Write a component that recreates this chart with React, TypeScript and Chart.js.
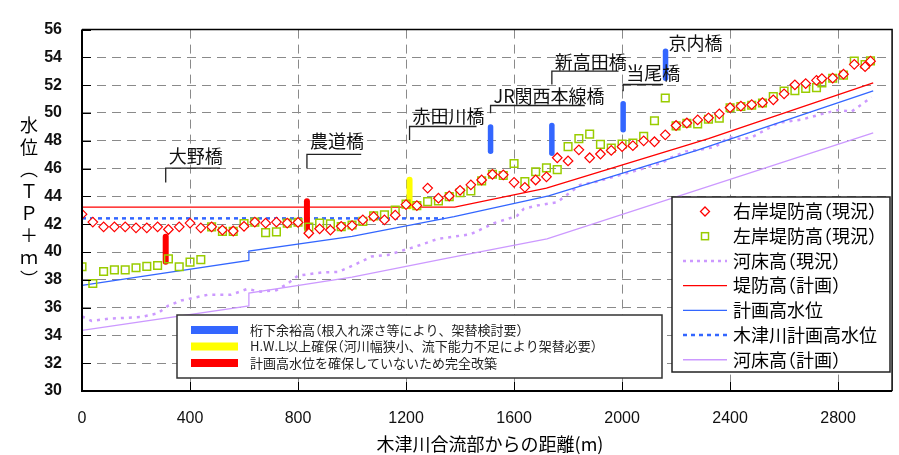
import { useEffect, useRef } from 'react';
import { Chart, registerables } from 'chart.js';

Chart.register(...registerables);

// ---------- data ----------
const distances = [
  0, 40, 80, 120, 160, 200, 240, 280, 320, 360, 400, 440, 480, 520, 560, 600, 640, 680, 720, 760,
  800, 840, 880, 920, 960, 1000, 1040, 1080, 1120, 1160, 1200, 1240, 1280, 1320, 1360, 1400, 1440, 1480, 1520, 1560,
  1600, 1640, 1680, 1720, 1760, 1800, 1840, 1880, 1920, 1960, 2000, 2040, 2080, 2120, 2160, 2200, 2240, 2280, 2320, 2360,
  2400, 2440, 2480, 2520, 2560, 2600, 2640, 2680, 2720, 2740, 2780, 2820, 2860, 2900, 2920,
];
const rightBankCurrent = [
  42.72, 42.15, 41.81, 41.81, 41.81, 41.74, 41.74, 41.81, 41.62, 41.81, 42.08, 41.74, 41.81, 41.58, 41.51, 41.85, 42.15, 42.08, 42.15, 42.08,
  42.13, 41.35, 41.67, 41.58, 41.85, 41.9, 42.31, 42.54, 42.31, 42.65, 43.41, 43.34, 44.6, 43.87, 44.03, 44.44, 44.83, 45.18, 45.59, 45.55,
  45.01, 44.65, 45.18, 45.41, 46.78, 46.55, 47.35, 46.78, 47.05, 47.31, 47.58, 47.65, 48.0, 47.93, 48.43, 49.1, 49.28, 49.5, 49.65, 49.94,
  50.38, 50.5, 50.6, 50.74, 50.95, 51.38, 52.03, 52.12, 52.35, 52.48, 52.51, 52.79, 53.5, 53.33, 53.73,
];
const leftBankCurrent = [
  38.94, 37.73, 38.6, 38.71, 38.71, 38.87, 38.97, 39.03, 39.51, 38.94, 39.27, 39.45, 41.81, 41.48, 41.48, 42.05, 42.15, 41.39, 41.45, 42.08,
  42.14, 41.8, 42.08, 42.02, 41.83, 41.94, 42.2, 42.6, 42.67, 43.02, 43.44, 43.34, 43.62, 43.68, 43.98, 44.26, 44.4, 45.12, 45.59, 45.5,
  46.37, 45.06, 45.77, 46.05, 45.93, 47.58, 48.16, 48.48, 47.74, 47.47, 47.76, 47.84, 48.33, 49.44, 51.08, 49.07, 49.26, 49.22, 49.55, 49.62,
  50.38, 50.47, 50.56, 50.72, 51.18, 51.58, 51.6, 51.77, 51.83, 52.17, 52.5, 52.72, 53.73, 53.49, 53.75,
];

const bedCurrentX = [
  0, 36, 97, 219, 281, 318, 367, 465, 551, 612, 661, 720, 760, 800, 888, 949, 1011, 1072, 1133, 1231,
  1317, 1440, 1526, 1611, 1636, 1685, 1759, 1845, 1906, 1967, 2053, 2151, 2175, 2237, 2286, 2347, 2396, 2445, 2482, 2580,
  2666, 2752, 2801, 2850, 2899, 2924,
];
const bedCurrentY = [
  35.36, 35.04, 35.2, 35.32, 35.59, 36.12, 36.51, 36.92, 36.92, 37.34, 37.15, 37.25, 37.7, 38.3, 38.53, 38.57, 39.1, 39.67, 39.79, 40.36,
  40.94, 41.28, 42.08, 42.6, 43.11, 43.34, 43.57, 44.83, 45.06, 45.4, 45.86, 46.44, 46.74, 47.24, 47.35, 47.58, 48.27, 48.11, 48.27, 49.3,
  49.53, 49.99, 50.22, 50.1, 50.79, 51.14,
];

const planLeveeX = [0, 1380, 1720, 2320, 2930];
const planLeveeY = [43.23, 43.23, 44.6, 48.15, 52.17];

const planHwlX = [0, 618, 618, 1000, 1378, 1728, 2274, 2930];
const planHwlY = [37.6, 39.4, 40.07, 41.12, 42.54, 44.03, 47.29, 51.6];

const kizuHwlX = [0, 1340];
const kizuHwlY = [42.42, 42.42];

const bedPlanX = [0, 618, 618, 1000, 1354, 1722, 2930];
const bedPlanY = [34.36, 36.12, 37.04, 38.2, 39.56, 40.94, 48.57];

// bridges
const bridgeNames = ['大野橋', '農道橋', '赤田川橋', 'JR関西本線橋', '新高田橋', '当尾橋', '京内橋'];
const bridgeX = [310, 833, 1213, 1513, 1740, 2004, 2161];
const bridgeLow = [39.3, 41.7, 43.3, 47.25, 47.1, 48.8, 52.5];
const bridgeHigh = [41.1, 43.65, 45.2, 49.0, 49.1, 50.66, 54.45];
const bridgeCategory = [2, 2, 1, 0, 0, 0, 0];
const leaderBottom = [45.0, 46.0, 48.06, 49.99, 52.05, 51.57, null];
const leaderTop = [46.03, 47.03, 49.03, 50.54, 53.01, 52.05, null];
const leaderEnd = [511, 1034, 1461, 1862, 1987, 2152, null];
const labelY = [46.9, 48.0, 49.8, 51.2, 53.64, 52.88, 55.0];

const categoryLabels = [
  '桁下余裕高（根入れ深さ等により、架替検討要）',
  'H.W.L以上確保（河川幅狭小、流下能力不足により架替必要）',
  '計画高水位を確保していないため完全改築',
];
const seriesLabels = [
  '右岸堤防高（現況）',
  '左岸堤防高（現況）',
  '河床高（現況）',
  '堤防高（計画）',
  '計画高水位',
  '木津川計画高水位',
  '河床高（計画）',
];
const yTitleChars = ['水', '位', '︵', 'Ｔ', 'Ｐ', '＋', 'ｍ', '︶'];
const xTitle = '木津川合流部からの距離(m)';

// ---------- styles ----------
const RED = '#ff0000';
const GREEN = '#99cc00';
const BLUE = '#3366ff';
const LILAC = '#cc99ff';
const YELLOW = '#ffff00';
const categoryColors = [BLUE, YELLOW, RED];
const JP = '"Noto Sans CJK JP", "Noto Sans", sans-serif';

const zip = (xs: number[], ys: number[]) => xs.map((x, i) => ({ x, y: ys[i] }));

function drawJP(ctx: CanvasRenderingContext2D, text: string, x: number, y: number, size: number) {
  let cx = x;
  for (const ch of Array.from(text)) {
    if (ch === '（') {
      ctx.fillText(ch, cx - size * 0.5, y);
      cx += size * 0.5;
    } else if (ch === '）') {
      ctx.fillText(ch, cx, y);
      cx += size * 0.5;
    } else {
      ctx.fillText(ch, cx, y);
      cx += ctx.measureText(ch).width;
    }
  }
  return cx;
}

const overlayPlugin = {
  id: 'overlay',
  afterDatasetsDraw(chart: any) {
    const ctx: CanvasRenderingContext2D = chart.ctx;
    const xs = chart.scales.x;
    const ys = chart.scales.y;
    ctx.save();
    // bridge leaders and labels
    ctx.font = `18px ${JP}`;
    ctx.textBaseline = 'middle';
    ctx.textAlign = 'left';
    bridgeNames.forEach((name, i) => {
      const px = xs.getPixelForValue(bridgeX[i]);
      const lb = leaderBottom[i];
      const lt = leaderTop[i];
      const le = leaderEnd[i];
      if (lb !== null && lt !== null && le !== null) {
        ctx.strokeStyle = '#222';
        ctx.lineWidth = 1.3;
        ctx.beginPath();
        ctx.moveTo(px, ys.getPixelForValue(lb));
        ctx.lineTo(px, ys.getPixelForValue(lt));
        ctx.lineTo(xs.getPixelForValue(le), ys.getPixelForValue(lt));
        ctx.stroke();
      }
      ctx.fillStyle = '#111';
      drawJP(ctx, name, px + 3, ys.getPixelForValue(labelY[i]), 18);
    });
    ctx.restore();
  },
  afterDraw(chart: any) {
    const ctx: CanvasRenderingContext2D = chart.ctx;
    const a = chart.chartArea;
    const xs = chart.scales.x;
    const ys = chart.scales.y;
    ctx.save();

    // inward ticks
    ctx.strokeStyle = '#000';
    ctx.lineWidth = 1;
    ys.ticks.forEach((t: any) => {
      const py = Math.round(ys.getPixelForValue(t.value)) + 0.5;
      ctx.beginPath();
      ctx.moveTo(a.left, py);
      ctx.lineTo(a.left + 9, py);
      ctx.stroke();
    });
    xs.ticks.forEach((t: any) => {
      const px = Math.round(xs.getPixelForValue(t.value)) + 0.5;
      ctx.beginPath();
      ctx.moveTo(px, a.bottom);
      ctx.lineTo(px, a.bottom - 9);
      ctx.stroke();
    });

    // frame
    ctx.lineWidth = 1.5;
    ctx.beginPath();
    ctx.moveTo(a.left, a.top);
    ctx.lineTo(a.right, a.top);
    ctx.lineTo(a.right, a.bottom);
    ctx.stroke();
    ctx.lineWidth = 2;
    ctx.beginPath();
    ctx.moveTo(a.left, a.top);
    ctx.lineTo(a.left, a.bottom);
    ctx.lineTo(a.right, a.bottom);
    ctx.stroke();

    // bottom legend (bridge categories)
    ctx.fillStyle = '#fff';
    ctx.fillRect(177, 315, 485, 63);
    ctx.strokeStyle = '#333';
    ctx.lineWidth = 1.5;
    ctx.strokeRect(177, 315, 485, 63);
    ctx.font = `13px ${JP}`;
    ctx.textBaseline = 'middle';
    ctx.textAlign = 'left';
    categoryLabels.forEach((lab, i) => {
      const cy = 330 + i * 16.5;
      ctx.fillStyle = categoryColors[i];
      ctx.fillRect(191, cy - 4, 47, 8);
      ctx.fillStyle = '#222';
      drawJP(ctx, lab, 250, cy, 13);
    });

    // right legend (series)
    ctx.fillStyle = '#fff';
    ctx.fillRect(672, 197, 218, 175);
    ctx.strokeStyle = '#222';
    ctx.lineWidth = 1.5;
    ctx.strokeRect(672, 197, 218, 175);
    ctx.font = `18px ${JP}`;
    seriesLabels.forEach((lab, i) => {
      const cy = 211.5 + i * 24.7;
      ctx.save();
      if (i === 0) {
        ctx.strokeStyle = RED;
        ctx.fillStyle = '#fff';
        ctx.lineWidth = 1.3;
        ctx.beginPath();
        ctx.moveTo(705, cy - 4.5);
        ctx.lineTo(709.5, cy);
        ctx.lineTo(705, cy + 4.5);
        ctx.lineTo(700.5, cy);
        ctx.closePath();
        ctx.fill();
        ctx.stroke();
      } else if (i === 1) {
        ctx.strokeStyle = GREEN;
        ctx.lineWidth = 1.5;
        ctx.strokeRect(701.5, cy - 3.5, 7, 7);
      } else {
        const styles: any[] = [
          null,
          null,
          { c: LILAC, w: 2.5, d: [3, 4] },
          { c: RED, w: 1.3, d: [] },
          { c: BLUE, w: 1.3, d: [] },
          { c: BLUE, w: 2.5, d: [4, 4] },
          { c: LILAC, w: 1.5, d: [] },
        ];
        const s = styles[i];
        ctx.strokeStyle = s.c;
        ctx.lineWidth = s.w;
        ctx.setLineDash(s.d);
        ctx.beginPath();
        ctx.moveTo(683, cy);
        ctx.lineTo(727, cy);
        ctx.stroke();
      }
      ctx.restore();
      ctx.fillStyle = '#000';
      drawJP(ctx, lab, 733, cy, 18);
    });

    // axis titles
    ctx.fillStyle = '#000';
    ctx.font = `18px ${JP}`;
    ctx.textAlign = 'center';
    ctx.textBaseline = 'middle';
    ctx.fillText(xTitle, 490, 444);
    yTitleChars.forEach((ch, i) => {
      ctx.fillText(ch, 29, 125 + i * 22);
    });

    ctx.restore();
  },
};

export default function App() {
  const canvasRef = useRef<HTMLCanvasElement | null>(null);

  useEffect(() => {
    const canvas = canvasRef.current;
    if (!canvas) return;

    const bridgeSets = bridgeNames.map((name, i) => ({
      label: name,
      data: [
        { x: bridgeX[i], y: bridgeLow[i] },
        { x: bridgeX[i], y: bridgeHigh[i] },
      ],
      showLine: true,
      borderColor: categoryColors[bridgeCategory[i]],
      borderWidth: bridgeCategory[i] === 0 ? 5.5 : 6,
      borderCapStyle: 'round',
      pointRadius: 0,
      order: 2,
    }));

    const chart = new Chart(canvas, {
      type: 'scatter',
      data: {
        datasets: [
          {
            label: seriesLabels[0],
            data: zip(distances, rightBankCurrent),
            pointStyle: 'rectRot',
            pointRadius: 4.8,
            borderColor: RED,
            backgroundColor: '#ffffff',
            pointBorderWidth: 1.2,
            showLine: false,
            order: 0,
          },
          {
            label: seriesLabels[1],
            data: zip(distances, leftBankCurrent),
            pointStyle: 'rect',
            pointRadius: 5.4,
            borderColor: GREEN,
            backgroundColor: 'rgba(0,0,0,0)',
            pointBorderWidth: 1.5,
            showLine: false,
            order: 1,
          },
          ...bridgeSets,
          {
            label: seriesLabels[2],
            data: zip(bedCurrentX, bedCurrentY),
            showLine: true,
            borderColor: LILAC,
            borderWidth: 2.5,
            borderDash: [3, 5],
            pointRadius: 0,
            order: 5,
          },
          {
            label: seriesLabels[3],
            data: zip(planLeveeX, planLeveeY),
            showLine: true,
            borderColor: RED,
            borderWidth: 1.3,
            pointRadius: 0,
            order: 4,
          },
          {
            label: seriesLabels[4],
            data: zip(planHwlX, planHwlY),
            showLine: true,
            borderColor: BLUE,
            borderWidth: 1.3,
            pointRadius: 0,
            order: 4,
          },
          {
            label: seriesLabels[5],
            data: zip(kizuHwlX, kizuHwlY),
            showLine: true,
            borderColor: BLUE,
            borderWidth: 2.5,
            borderDash: [4, 4],
            pointRadius: 0,
            order: 4,
          },
          {
            label: seriesLabels[6],
            data: zip(bedPlanX, bedPlanY),
            showLine: true,
            borderColor: LILAC,
            borderWidth: 1.3,
            pointRadius: 0,
            order: 5,
          },
        ] as any,
      },
      options: {
        animation: false,
        responsive: true,
        maintainAspectRatio: false,
        layout: { padding: { top: 13, right: 2, left: 0, bottom: 0 } },
        plugins: {
          legend: { display: false },
          tooltip: { enabled: false },
        },
        scales: {
          x: {
            type: 'linear',
            min: 0,
            max: 3000,
            afterFit: (s: any) => {
              s.height = 64;
            },
            grid: { color: '#8a8a8a', lineWidth: 1, drawTicks: false },
            border: { display: false, dash: [9, 6] },
            ticks: {
              stepSize: 400,
              includeBounds: false,
              padding: 18,
              color: '#111',
              font: { family: '"Liberation Sans", Arial, sans-serif', size: 16 },
              callback: (v: any) => String(v),
            },
          },
          y: {
            type: 'linear',
            min: 30,
            max: 56,
            afterFit: (s: any) => {
              s.width = 82;
            },
            grid: { color: '#8a8a8a', lineWidth: 1, drawTicks: false },
            border: { display: false, dash: [9, 6] },
            ticks: {
              stepSize: 2,
              padding: 20,
              color: '#111',
              font: { family: '"Liberation Sans", Arial, sans-serif', size: 16, weight: 'bold' },
              callback: (v: any) => String(v),
            },
          },
        },
      } as any,
      plugins: [overlayPlugin],
    });

    return () => chart.destroy();
  }, []);

  return (
    <div style={{ position: 'fixed', left: 0, top: 0, width: 899, height: 455, background: '#fff' }}>
      <canvas ref={canvasRef} />
    </div>
  );
}
